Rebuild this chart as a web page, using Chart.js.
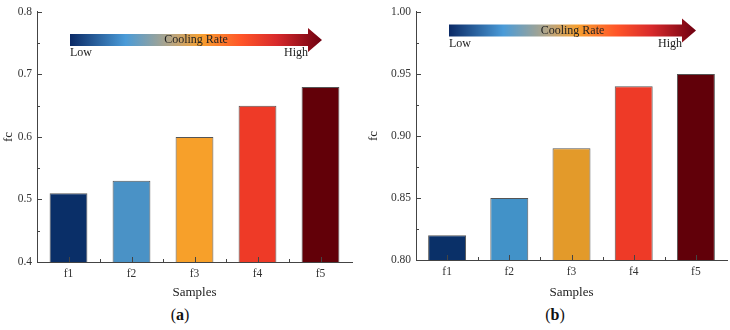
<!DOCTYPE html>
<html>
<head>
<meta charset="utf-8">
<script src="https://cdn.jsdelivr.net/npm/chart.js@4"></script>
<style>
    body { margin: 0; background: #fff; }
    #wrap { position: relative; width: 730px; height: 330px; overflow: hidden; }
    canvas { position: absolute; top: 0; }
    .panel-label { position: absolute; top: 306px; font: 16px 'Liberation Serif', serif; color: #111; transform: translateX(-50%); }
</style>
</head>
<body>
<div id="wrap">
    <canvas id="chartA" width="365" height="305" style="left:0"></canvas>
    <canvas id="chartB" width="365" height="305" style="left:365px"></canvas>
    <div class="panel-label" style="left:180px">(<b>a</b>)</div>
    <div class="panel-label" style="left:555px">(<b>b</b>)</div>
</div>
<script>
// ---- data ----
const samples = ['f1', 'f2', 'f3', 'f4', 'f5'];
const fcA = [0.51, 0.53, 0.60, 0.65, 0.68];
const fcB = [0.82, 0.85, 0.89, 0.94, 0.95];
const coloursA = ['#0a2f68', '#4a92c6', '#f7a02a', '#ee3a27', '#620008'];
const coloursB = ['#0a3068', '#4292c8', '#e39a2a', '#ee3a27', '#610009'];

const serif = "'Liberation Serif', 'Times New Roman', serif";
const axisColour = '#444';

// inward tick marks + cooling rate arrow
const decorPlugin = {
    id: 'decor',
    afterDatasetsDraw(chart, args, opts) {
        const { ctx, chartArea: a, scales: { x, y } } = chart;
        ctx.save();
        ctx.strokeStyle = axisColour;
        ctx.lineWidth = 1;
        ctx.beginPath();
        // y ticks
        const yt = y.ticks.map(t => t.value);
        yt.forEach((v, i) => {
            const py = Math.round(y.getPixelForValue(v)) + 0.5;
            ctx.moveTo(a.left, py); ctx.lineTo(a.left + 5, py);
            if (i < yt.length - 1) {
                const my = Math.round(y.getPixelForValue((v + yt[i + 1]) / 2)) + 0.5;
                ctx.moveTo(a.left, my); ctx.lineTo(a.left + 3, my);
            }
        });
        // x ticks
        samples.forEach((s, i) => {
            const px = Math.round(x.getPixelForValue(i)) + 0.5;
            ctx.moveTo(px, a.bottom); ctx.lineTo(px, a.bottom - 5);
            if (i < samples.length - 1) {
                const mx = Math.round(x.getPixelForValue(i + 0.5)) + 0.5;
                ctx.moveTo(mx, a.bottom); ctx.lineTo(mx, a.bottom - 3);
            }
        });
        ctx.stroke();

        // arrow
        const { x0, x1, yc } = opts;
        const headLen = 14, half = 6, headHalf = 12;
        const grad = ctx.createLinearGradient(x0, 0, x1, 0);
        grad.addColorStop(0, '#0b2a66');
        grad.addColorStop(0.22, '#4a9bd8');
        grad.addColorStop(0.4, '#b5a584');
        grad.addColorStop(0.52, '#f7a030');
        grad.addColorStop(0.68, '#ff5528');
        grad.addColorStop(0.82, '#d82a2c');
        grad.addColorStop(1, '#6e0010');
        ctx.fillStyle = grad;
        ctx.beginPath();
        ctx.moveTo(x0, yc - half);
        ctx.lineTo(x1 - headLen, yc - half);
        ctx.lineTo(x1 - headLen, yc - headHalf);
        ctx.lineTo(x1, yc);
        ctx.lineTo(x1 - headLen, yc + headHalf);
        ctx.lineTo(x1 - headLen, yc + half);
        ctx.lineTo(x0, yc + half);
        ctx.closePath();
        ctx.fill();

        ctx.fillStyle = '#222';
        ctx.font = '12px ' + serif;
        ctx.textBaseline = 'middle';
        ctx.textAlign = 'center';
        ctx.fillText('Cooling Rate', (x0 + x1) / 2, yc);
        ctx.textAlign = 'left';
        ctx.fillText('Low', x0, yc + 13);
        ctx.textAlign = 'right';
        ctx.fillText('High', x1 - headLen, yc + 13);
        ctx.restore();
    }
};

function makeChart(id, values, colours, yCfg, layout) {
    return new Chart(document.getElementById(id), {
        type: 'bar',
        data: {
            labels: samples,
            datasets: [{
                data: values,
                backgroundColor: colours,
                borderColor: '#555',
                borderWidth: 1,
                borderSkipped: false,
                barPercentage: layout.barPct,
                categoryPercentage: 1
            }]
        },
        options: {
            responsive: false,
            animation: false,
            layout: { padding: { top: layout.top, right: layout.right, left: 0, bottom: 0 } },
            plugins: {
                legend: { display: false },
                tooltip: { enabled: false },
                decor: layout.arrow
            },
            scales: {
                x: {
                    offset: true,
                    grid: { display: false, drawTicks: false },
                    border: { display: true, color: axisColour, width: 1 },
                    ticks: { color: '#333', padding: 5, font: { family: serif, size: 11.5 } },
                    title: { display: true, text: 'Samples', color: '#222', padding: { top: 0, bottom: 5 }, font: { family: serif, size: 13 } },
                    afterFit: s => { s.height = layout.xh; }
                },
                y: {
                    min: yCfg.min,
                    max: yCfg.max,
                    grid: { display: false, drawTicks: false },
                    border: { display: true, color: axisColour, width: 1 },
                    ticks: {
                        stepSize: yCfg.step,
                        color: '#333',
                        padding: 5,
                        font: { family: serif, size: 11.5 },
                        callback: v => Number(v).toFixed(yCfg.dp)
                    },
                    title: { display: true, text: 'fc', color: '#222', padding: { top: 1, bottom: 0 }, font: { family: serif, size: 13 } },
                    afterFit: s => { s.width = layout.yw; }
                }
            }
        },
        plugins: [decorPlugin]
    });
}

makeChart('chartA', fcA, coloursA, { min: 0.4, max: 0.8, step: 0.1, dp: 1 },
    { top: 8, right: 13, yw: 37, xh: 43, barPct: 0.6, arrow: { x0: 70, x1: 322, yc: 40 } });
makeChart('chartB', fcB, coloursB, { min: 0.8, max: 1.0, step: 0.05, dp: 2 },
    { top: 9, right: 3, yw: 51, xh: 45, barPct: 0.61, arrow: { x0: 84, x1: 331, yc: 30.5 } });
</script>
</body>
</html>
